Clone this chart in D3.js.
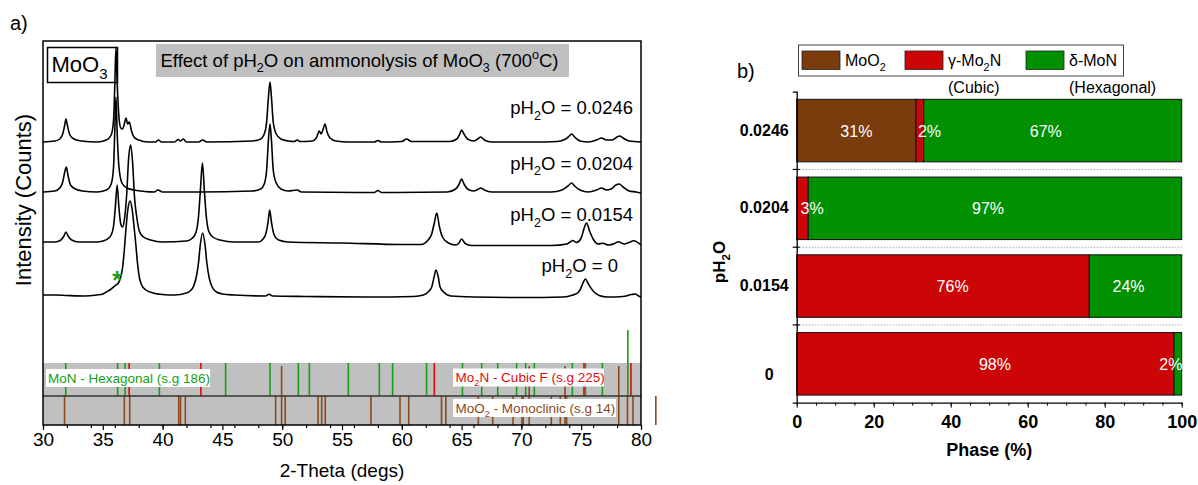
<!DOCTYPE html>
<html>
<head>
<meta charset="utf-8">
<script src="https://cdn.jsdelivr.net/npm/d3@7"></script>
<style>
  body { margin: 0; background: #fff; }
  svg { display: block; font-family: "Liberation Sans", Arial, sans-serif; }
</style>
</head>
<body>
<svg id="chart" width="1198" height="485"></svg>
<script>
'use strict';

// ---------- panel a) : XRD patterns ----------
var thetaTicks = [30, 35, 40, 45, 50, 55, 60, 65, 70, 75, 80];

var traceLabelVals = ["0.0246", "0.0204", "0.0154", "0"];
var traceOffsets = [283, 233, 183, 130];   // counts offset for the stacking

var trace0246 = [[30,0],[31.0,1],[31.4,3],[31.65,8],[31.8,16],[31.92,23],[32.05,16],[32.25,7],[32.6,3],[33.2,1],[34.5,0],
  [35.3,2],[35.7,7],[35.9,22],[36.0,55],[36.1,95],[36.2,60],[36.35,25],[36.5,14],[36.65,13],[36.8,18],[36.94,24],[37.08,18],
  [37.22,20],[37.4,11],[37.6,5],[38.0,2],[38.8,0],[39.4,0],[39.65,2],[39.9,0],[41.0,0],[41.3,2.5],[41.5,1],[41.73,3],[42.0,0],
  [43.0,0],[43.35,2],[43.7,0],[47.5,1],[48.2,3],[48.5,8],[48.7,20],[48.85,45],[48.98,60],[49.1,45],[49.25,20],[49.5,8],
  [49.9,3],[50.5,1],[51.0,0.5],[51.26,2],[51.5,0.5],[52.5,1],[52.85,4],[53.1,11],[53.25,8],[53.4,12],[53.58,18],[53.75,10],
  [54.0,4],[54.5,1],[55.5,0],[57.7,0],[58.0,1.5],[58.3,0],[60.0,0.5],[60.4,3],[60.8,0.5],[64.0,0.5],[64.6,3],[64.85,8],
  [65.0,12],[65.2,8],[65.5,3],[66.0,1],[66.35,3],[66.6,5],[66.9,2],[67.5,0],[71,0],[73.0,0.5],[73.7,3],[74.0,6],[74.2,8],
  [74.45,5],[74.9,1],[75.6,0],[76.3,2],[76.7,4],[77.1,2],[77.6,2],[78.0,5],[78.2,6],[78.5,4],[79.0,1],[80,0]];

var trace0204 = [[30,0],[31.0,1],[31.4,4],[31.65,10],[31.82,20],[31.95,25],[32.1,16],[32.3,7],[32.7,3],[33.3,1],[34.5,0],
  [35.3,2],[35.7,8],[35.9,25],[36.0,60],[36.1,95],[36.2,60],[36.35,25],[36.6,9],[37.0,4],[37.6,2],[38.5,0.5],[39.3,0],
  [39.6,2],[40.0,0],[43.0,0],[47.5,1],[48.2,3],[48.5,8],[48.7,22],[48.85,52],[48.98,68],[49.1,52],[49.25,22],[49.5,9],
  [49.9,3],[50.5,1],[51.26,2],[51.6,0],[57.7,-0.5],[58.0,1.5],[58.3,-0.5],[63.8,0],[64.5,3],[64.8,8],[65.0,13],[65.2,8],
  [65.5,3],[66.0,1],[66.35,2.5],[66.6,4],[66.9,2],[67.5,0],[72.5,0],[73.4,2],[73.9,6],[74.2,9],[74.45,6],[74.9,2],[75.6,0],
  [76.3,2],[76.7,4],[77.1,2],[77.5,3],[77.9,7],[78.18,8],[78.5,5],[79.0,1],[79.6,0],[80,-1]];

var trace0154 = [[30,0],[31.0,0],[31.5,2],[31.75,6],[31.92,10],[32.1,6],[32.4,2],[33.0,0],[34.5,0],[35.0,1],[35.4,3],
  [35.7,7],[35.9,16],[36.05,35],[36.2,57],[36.35,34],[36.5,18],[36.65,15],[36.8,22],[37.0,48],[37.15,82],[37.33,97],
  [37.5,78],[37.65,45],[37.85,24],[38.05,11],[38.4,5],[39.0,2],[40.0,0],[42.0,1],[42.5,4],[42.8,10],[43.0,25],[43.15,50],
  [43.33,79],[43.5,50],[43.65,26],[43.85,11],[44.2,5],[44.8,2],[46.0,0],[48.0,0],[48.4,3],[48.65,9],[48.82,20],[48.95,32],
  [49.1,20],[49.3,8],[49.7,2],[50.5,0],[55,-1],[60,-2.5],[61.6,-2.5],[62.2,2],[62.5,8],[62.7,18],[62.92,29],[63.15,15],
  [63.4,5],[63.9,-1],[64.5,-3],[64.75,-1.5],[65.0,3],[65.3,-1.5],[65.8,-3.5],[72.5,-3.5],[73.8,-2],[74.3,1.5],[74.6,-0.5],
  [75.0,4],[75.25,14],[75.45,19],[75.7,11],[76.0,3],[76.4,-2],[76.8,-1.3],[77.3,-3],[77.8,-1.5],[78.1,0.3],[78.6,-2],
  [79.0,-0.5],[79.4,1.3],[80,-3]];

var trace0 = [[30,0],[31,0],[32,-0.5],[33.5,-1],[34.5,0],[35.0,1],[35.3,3],[35.7,6],[36.1,10],[36.3,12],[36.5,18],
  [36.65,27],[36.8,45],[36.95,68],[37.1,86],[37.27,94],[37.45,86],[37.6,70],[37.75,52],[37.9,32],[38.05,18],[38.25,10],
  [38.6,5],[39.2,2],[40.0,0.5],[41.0,0],[42.0,2],[42.3,4],[42.6,9],[42.85,20],[43.0,32],[43.15,50],[43.35,62],[43.55,50],
  [43.7,32],[43.9,17],[44.1,9],[44.5,3],[45.0,1],[46,0],[48.6,-1],[48.9,0.8],[49.2,-1],[52,-1.5],[57,-2],[61.0,-1.5],
  [61.8,0],[62.2,3],[62.5,8],[62.7,18],[62.86,25],[63.05,18],[63.2,8],[63.5,3],[64.1,-1],[66,-2],[70,-2.5],[73.5,-2],
  [74.3,0],[74.7,2],[74.9,5],[75.15,12],[75.35,16],[75.6,11],[76.0,4],[76.5,-0.5],[77.2,-2],[78.5,-1.5],[79.2,0.5],
  [79.5,1],[79.8,-1],[80,-2]];

var traces = [trace0246, trace0204, trace0154, trace0];

// reference patterns (stick positions in 2-theta, stick heights in counts)
var monSticks = [31.9, 36.24, 36.86, 39.73, 45.27, 48.98, 51.35, 52.27, 55.53, 58.12, 59.23, 62.07, 65.07, 66.68,
  68.02, 69.6, 70.36, 71.08, 74.26, 75.35, 76.77, 78.9];
var monHeights = [33, 33, 33, 33, 33, 33, 33, 33, 33, 33, 33, 33, 33, 33, 33, 33, 33, 33, 33, 33, 33, 66];
var mo2nSticks = [37.2, 43.2, 62.72, 75.23, 79.16];
var mo2nHeights = [33, 33, 33, 33, 33];
var moo2Sticks = [31.8, 36.8, 37.25, 41.35, 41.5, 41.9, 49.45, 49.95, 50.25, 53.0, 53.3, 53.6, 57.42, 59.85, 60.58,
  63.32, 63.68, 66.4, 67.6, 69.3, 70.05, 70.15, 70.65, 72.5, 73.25, 73.65, 73.78, 78.14, 78.87, 79.33, 81.24];
var moo2Heights = [29, 29, 29, 29, 29, 29, 29, 59, 29, 29, 29, 29, 29, 29, 29, 29, 29, 29, 29, 29, 29, 29, 59, 29,
  29, 59, 29, 59, 29, 29, 29];
var hexBase = 29, moo2Base = 0;

// ---------- panel b) : phase fractions ----------
var phCats = ["0.0246", "0.0204", "0.0154", "0"];
var phaseKeys = ["MoO2", "Mo2N", "MoN"];
var moo2Pct = [31, 0, 0, 0];
var mo2nPct = [2, 3, 76, 98];
var monPct = [67, 97, 24, 2];
var phaseTicks = [0, 20, 40, 60, 80, 100];

var colors = { MoO2: "#7a3b0d", Mo2N: "#cc0606", MoN: "#009000" };
var labelNudge = { MoO2: 0, Mo2N: 2.5, MoN: -1.8 };   // label shift, in % units
var stickColors = { mon: "#14a014", mo2n: "#e00a0a", moo2: "#8b4a1b" };

var svg = d3.select("#chart");

// text with sub / superscripts
function rich(sel, parts, size) {
  var shift = 0;
  parts.forEach(function(p) {
    var target = p[1] === "sub" ? size * 0.3 : (p[1] === "sup" ? -size * 0.38 : 0);
    sel.append("tspan")
      .attr("dy", target - shift)
      .attr("font-size", p[1] ? size * 0.68 : size)
      .text(p[0]);
    shift = target;
  });
  return sel;
}

// ================= panel a =================
var x = d3.scaleLinear().domain([30, 80]).range([43, 641]);
var y = d3.scaleLinear().domain([0, 384]).range([425, 41]);

var gA = svg.append("g");

gA.append("text").attr("x", 10).attr("y", 30).attr("font-size", 20).text("a)");

// reference bands
gA.append("rect")
  .attr("x", x(30)).attr("width", x(80) - x(30))
  .attr("y", y(hexBase + 33)).attr("height", y(moo2Base) - y(hexBase + 33))
  .attr("fill", "#c0c0c0");

function drawSticks(pos, heights, base, color) {
  gA.append("g").selectAll("line")
    .data(pos)
  .enter().append("line")
    .attr("x1", function(d) { return x(d); })
    .attr("x2", function(d) { return x(d); })
    .attr("y1", y(base))
    .attr("y2", function(d, i) { return y(base + heights[i]); })
    .attr("stroke", color)
    .attr("stroke-width", 1.6);
}
drawSticks(moo2Sticks, moo2Heights, moo2Base, stickColors.moo2);
drawSticks(monSticks, monHeights, hexBase, stickColors.mon);
drawSticks(mo2nSticks, mo2nHeights, hexBase, stickColors.mo2n);

gA.append("line")
  .attr("x1", x(30)).attr("x2", x(80))
  .attr("y1", y(hexBase)).attr("y2", y(hexBase))
  .attr("stroke", "#333").attr("stroke-width", 1.5);

// reference labels
function refLabel(bx, by, bw, tx, ty, parts, color) {
  gA.append("rect").attr("x", bx).attr("y", by).attr("width", bw).attr("height", 18).attr("fill", "#fff");
  rich(gA.append("text").attr("x", tx).attr("y", ty).attr("fill", color).attr("font-size", 13.5), parts, 13.5);
}
refLabel(46, 369, 164, 48, 383, [["MoN - Hexagonal (s.g 186)"]], stickColors.mon);
refLabel(453, 368.5, 151, 455.5, 382, [["Mo"], ["2", "sub"], ["N - Cubic F (s.g 225)"]], stickColors.mo2n);
refLabel(453, 399, 163, 455.5, 413, [["MoO"], ["2", "sub"], [" - Monoclinic (s.g 14)"]], stickColors.moo2);

// MoO3 box and title
gA.append("rect").attr("x", 47.5).attr("y", 47.5).attr("width", 70).attr("height", 35)
  .attr("fill", "#fff").attr("stroke", "#000").attr("stroke-width", 1.5);
rich(gA.append("text").attr("x", 51.5).attr("y", 72).attr("font-size", 22), [["MoO"], ["3", "sub"]], 22);

gA.append("rect").attr("x", 156).attr("y", 44).attr("width", 413).attr("height", 33).attr("fill", "#c0c0c0");
rich(gA.append("text").attr("x", 160.5).attr("y", 66.5).attr("font-size", 18.5),
  [["Effect of pH"], ["2", "sub"], ["O on ammonolysis of MoO"], ["3", "sub"], [" (700"], ["o", "sup"], ["C)"]], 18.5);

// patterns
var line = d3.line()
  .x(function(d) { return x(d[0]); })
  .curve(d3.curveMonotoneX);

gA.append("g").selectAll("path")
  .data(traces)
.enter().append("path")
  .attr("d", function(d, i) {
    return line.y(function(p) { return y(p[1] + traceOffsets[i]); })(d);
  })
  .attr("fill", "none")
  .attr("stroke", "#000")
  .attr("stroke-width", 1.6)
  .attr("stroke-linejoin", "round");

// pH2O labels
var labelPos = [[633, 114], [633, 169.5], [633, 221], [618, 272]];
traceLabelVals.forEach(function(v, i) {
  rich(gA.append("text")
      .attr("x", labelPos[i][0]).attr("y", labelPos[i][1])
      .attr("text-anchor", "end").attr("font-size", 18.5),
    [["pH"], ["2", "sub"], ["O = " + v]], 18.5);
});

gA.append("text").attr("x", 117).attr("y", 289).attr("text-anchor", "middle")
  .attr("font-size", 25).attr("font-weight", "bold").attr("fill", "#1f9a1f").text("*");

// axes
var minorA = gA.append("g").attr("transform", "translate(0," + y(0) + ")")
  .call(d3.axisBottom(x).tickValues(x.ticks(20)).tickSize(3).tickFormat(""));
minorA.select(".domain").remove();

var axA = gA.append("g").attr("transform", "translate(0," + y(0) + ")")
  .call(d3.axisBottom(x).tickValues(thetaTicks).tickSize(5).tickPadding(3).tickFormat(d3.format("d")));
axA.select(".domain").remove();
axA.selectAll("text").attr("font-size", 19).attr("font-family", null).attr("fill", "#000");
axA.selectAll("line").attr("stroke-width", 1.2);
minorA.selectAll("line").attr("stroke-width", 1.2);

gA.append("rect")
  .attr("x", x(30)).attr("y", y(384)).attr("width", x(80) - x(30)).attr("height", y(0) - y(384))
  .attr("fill", "none").attr("stroke", "#000").attr("stroke-width", 1.5);

gA.append("text").attr("x", (x(30) + x(80)) / 2).attr("y", 477)
  .attr("text-anchor", "middle").attr("font-size", 19).text("2-Theta (degs)");

gA.append("text").attr("transform", "translate(31,200) rotate(-90)")
  .attr("text-anchor", "middle").attr("font-size", 22).text("Intensity (Counts)");

// ================= panel b =================
var xb = d3.scaleLinear().domain([0, 100]).range([796.7, 1181.7]);
var yb = d3.scaleBand().domain(phCats).range([91.7, 402.7]).paddingInner(0).paddingOuter(0);
var barH = yb.bandwidth() * 0.804;

var rows = phCats.map(function(c, i) {
  return { cat: c, MoO2: moo2Pct[i], Mo2N: mo2nPct[i], MoN: monPct[i] };
});
var stacked = d3.stack().keys(phaseKeys)(rows);

var gB = svg.append("g");

gB.append("text").attr("x", 737).attr("y", 78).attr("font-size", 20).text("b)");

// dotted separators
gB.append("g").selectAll("line")
  .data(phCats.slice(1))
.enter().append("line")
  .attr("x1", xb(0)).attr("x2", xb(100))
  .attr("y1", function(d) { return yb(d); })
  .attr("y2", function(d) { return yb(d); })
  .attr("stroke", "#aaa").attr("stroke-width", 1).attr("stroke-dasharray", "1.5,1.5");

var layer = gB.append("g").selectAll("g")
  .data(stacked)
.enter().append("g")
  .attr("fill", function(d) { return colors[d.key]; });

layer.selectAll("rect")
  .data(function(d) { return d.filter(function(s) { return s[1] - s[0] > 0; }); })
.enter().append("rect")
  .attr("x", function(d) { return xb(d[0]); })
  .attr("width", function(d) { return xb(d[1]) - xb(d[0]); })
  .attr("y", function(d) { return yb(d.data.cat) + (yb.bandwidth() - barH) / 2; })
  .attr("height", barH)
  .attr("stroke", "#111").attr("stroke-width", 1);

// value labels go on top of every segment
var segLabels = [];
stacked.forEach(function(ser) {
  ser.forEach(function(s) {
    if (s[1] - s[0] > 0) segLabels.push({ s: s, key: ser.key });
  });
});

gB.append("g").selectAll("text")
  .data(segLabels)
.enter().append("text")
  .attr("x", function(d) { return xb((d.s[0] + d.s[1]) / 2 + labelNudge[d.key]); })
  .attr("y", function(d) { return yb(d.s.data.cat) + yb.bandwidth() / 2 + 6; })
  .attr("text-anchor", "middle")
  .attr("fill", "#fff").attr("font-size", 16)
  .text(function(d) { return (d.s[1] - d.s[0]) + "%"; });

// axes
var minorB = gB.append("g").attr("transform", "translate(0," + yb.range()[1] + ")")
  .call(d3.axisBottom(xb).tickValues(xb.ticks(25)).tickSize(3).tickFormat(""));
minorB.select(".domain").remove();

var axB = gB.append("g").attr("transform", "translate(0," + yb.range()[1] + ")")
  .call(d3.axisBottom(xb).tickValues(phaseTicks).tickSize(5).tickPadding(8).tickSizeOuter(0));
axB.selectAll("text").attr("font-size", 18).attr("font-weight", "bold").attr("font-family", null).attr("fill", "#000");
axB.select(".domain").attr("stroke-width", 1.3);

var axYB = gB.append("g").attr("transform", "translate(" + xb(0) + ",0)")
  .call(d3.axisLeft(yb).tickSize(0).tickPadding(8).tickSizeOuter(4));
axYB.select(".domain").attr("stroke-width", 1.3);
axYB.selectAll("text").attr("font-size", 16).attr("font-weight", "bold").attr("font-family", null).attr("fill", "#000");
axYB.selectAll(".tick").filter(function(d) { return d === "0"; }).select("text")
  .attr("x", -23).attr("y", 11);

gB.append("g").selectAll("line")
  .data(phCats.slice(1))
.enter().append("line")
  .attr("x1", xb(0) - 4).attr("x2", xb(0) + 3)
  .attr("y1", function(d) { return yb(d); })
  .attr("y2", function(d) { return yb(d); })
  .attr("stroke", "#000").attr("stroke-width", 1.2);

gB.append("text").attr("x", (xb(0) + xb(100)) / 2).attr("y", 456)
  .attr("text-anchor", "middle").attr("font-size", 18).attr("font-weight", "bold").text("Phase (%)");

rich(gB.append("text").attr("transform", "translate(725,262) rotate(-90)")
    .attr("text-anchor", "middle").attr("font-size", 17).attr("font-weight", "bold"),
  [["pH"], ["2", "sub"], ["O"]], 17);

// legend
var legend = gB.append("g");
legend.append("rect").attr("x", 798.5).attr("y", 45).attr("width", 325).attr("height", 31)
  .attr("fill", "#fff").attr("stroke", "#444").attr("stroke-width", 1);

var legendItems = [
  { key: "MoO2", sx: 802, parts: [["MoO"], ["2", "sub"]], note: null },
  { key: "Mo2N", sx: 905, parts: [["\u03b3-Mo"], ["2", "sub"], ["N"]], note: "(Cubic)" },
  { key: "MoN", sx: 1026, parts: [["\u03b4-MoN"]], note: "(Hexagonal)" }
];
legendItems.forEach(function(it) {
  legend.append("rect").attr("x", it.sx).attr("y", 51).attr("width", 38).attr("height", 18.5)
    .attr("fill", colors[it.key]).attr("stroke", "#222").attr("stroke-width", 0.8);
  rich(legend.append("text").attr("x", it.sx + 43).attr("y", 66).attr("font-size", 16), it.parts, 16);
  if (it.note) {
    legend.append("text").attr("x", it.sx + 43).attr("y", 93).attr("font-size", 16).text(it.note);
  }
});
</script>
</body>
</html>
